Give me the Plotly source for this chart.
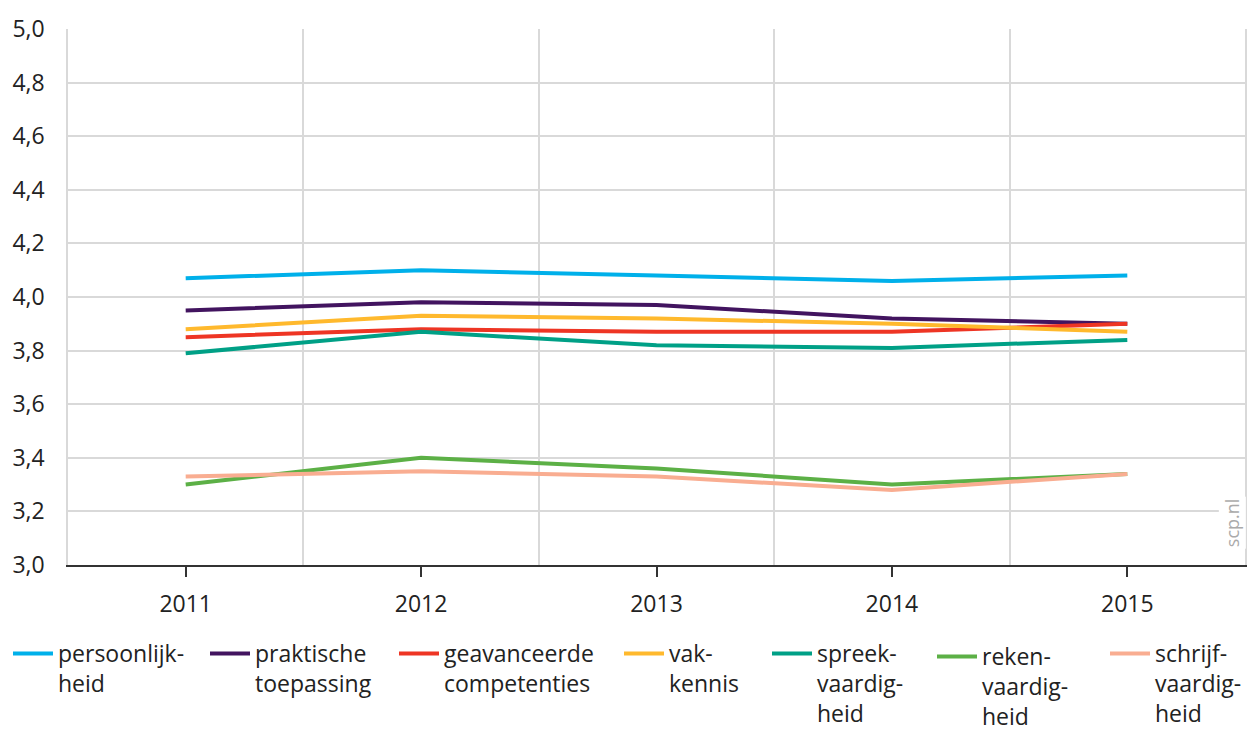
import plotly.graph_objects as go

years = [2011, 2012, 2013, 2014, 2015]
series_names = [
    "persoonlijk-<br>heid",
    "praktische<br>toepassing",
    "geavanceerde<br>competenties",
    "vak-<br>kennis",
    "spreek-<br>vaardig-<br>heid",
    "reken-<br>vaardig-<br>heid",
    "schrijf-<br>vaardig-<br>heid",
]
persoonlijkheid = [4.07, 4.10, 4.08, 4.06, 4.08]
praktische_toepassing = [3.95, 3.98, 3.97, 3.92, 3.90]
geavanceerde_competenties = [3.85, 3.88, 3.87, 3.87, 3.90]
vakkennis = [3.88, 3.93, 3.92, 3.90, 3.87]
spreekvaardigheid = [3.79, 3.87, 3.82, 3.81, 3.84]
rekenvaardigheid = [3.30, 3.40, 3.36, 3.30, 3.34]
schrijfvaardigheid = [3.33, 3.35, 3.33, 3.28, 3.34]
colors = ["#00b0ea", "#42145f", "#ee3524", "#ffb92d", "#00a086", "#5cb046", "#f9ad91"]
y_ticks = [3.0, 3.2, 3.4, 3.6, 3.8, 4.0, 4.2, 4.4, 4.6, 4.8, 5.0]

all_series = [persoonlijkheid, praktische_toepassing, geavanceerde_competenties,
              vakkennis, spreekvaardigheid, rekenvaardigheid, schrijfvaardigheid]

# legend entry placement (pixels within the figure)
legend_left_px = [-2, 197, 386, 611, 759, 924, 1097]
legend_top_px = [624, 624, 624, 624, 624, 627, 624]

W, H = 1247, 723
FONT = "Open Sans"
FS = 23
fig = go.Figure()
legend_layout = {}
for i, (name, vals, col) in enumerate(zip(series_names, all_series, colors)):
    key = "legend" if i == 0 else f"legend{i + 1}"
    fig.add_trace(go.Scatter(x=years, y=vals, mode="lines", name=name,
                             line=dict(color=col, width=4), legend=key))
    legend_layout[key] = dict(
        orientation="h", xref="container", yref="container",
        x=legend_left_px[i] / W, xanchor="left",
        y=1 - legend_top_px[i] / H, yanchor="top",
        valign="top", itemwidth=40, bgcolor="rgba(0,0,0,0)",
        font=dict(family=FONT, size=FS, color="#222222"),
    )

fig.update_layout(
    width=W, height=H,
    margin=dict(l=60, r=10, t=21, b=166),
    paper_bgcolor="white", plot_bgcolor="white",
    separators=",.",
    font=dict(family=FONT, size=FS, color="#222222"),
    showlegend=True,
    xaxis=dict(range=[2010.5, 2015.5], tickvals=years, ticktext=[str(y) for y in years],
               automargin=False,
               showgrid=False, zeroline=False, showline=True, linecolor="#333333", linewidth=2,
               ticks="outside", ticklen=10, tickcolor="#333333", tickwidth=1.5,
               ticklabelstandoff=7,
               tickfont=dict(family=FONT, size=FS, color="#222222"),
               minor=dict(tickvals=[2011.5, 2012.5, 2013.5, 2014.5], showgrid=True,
                          gridcolor="#d9d9d9", gridwidth=1.5, ticks="")),
    yaxis=dict(range=[3.0, 5.0], tickvals=y_ticks, tickformat=".1f",
               automargin=False,
               showgrid=True, gridcolor="#d9d9d9", gridwidth=1.5, zeroline=False,
               showline=True, linecolor="#d9d9d9", linewidth=1.5, mirror=True,
               ticks="", ticklabelstandoff=17,
               tickfont=dict(family=FONT, size=FS, color="#222222")),
    annotations=[dict(text="scp.nl", x=1.0015, y=0.03, xref="paper", yref="paper",
                      showarrow=False, textangle=-90, bgcolor="white",
                      font=dict(family=FONT, size=18, color="#aaaaaa"))],
    **legend_layout,
)

fig.write_html("out.html")
